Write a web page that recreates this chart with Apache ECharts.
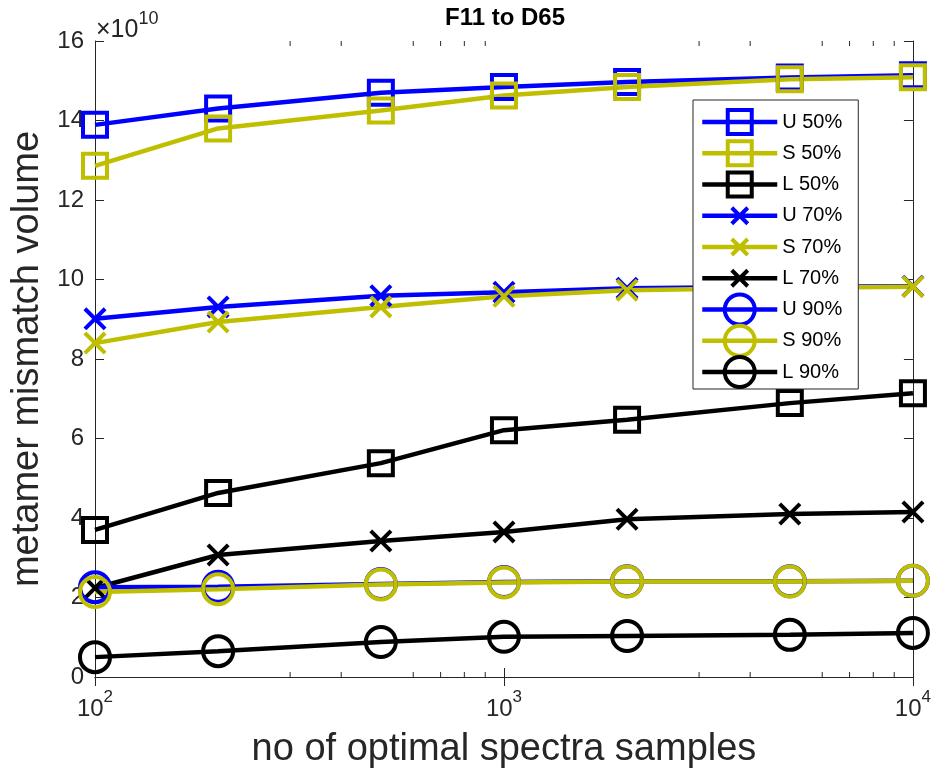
<!DOCTYPE html>
<html>
<head>
<meta charset="utf-8">
<script src="https://cdn.jsdelivr.net/npm/echarts@6/dist/echarts.min.js"></script>
<style>
  html, body { margin: 0; padding: 0; background: #fff; }
  #chart { width: 934px; height: 774px; }
</style>
</head>
<body>
<div id="chart"></div>
<script>
// Sample counts (log-scaled x axis)
const sampleCounts = [100, 200, 500, 1000, 2000, 5000, 10000];

// Metamer mismatch volume, in units of 1e10
const U50 = [13.89, 14.30, 14.70, 14.84, 14.97, 15.08, 15.14];
const S50 = [12.86, 13.80, 14.25, 14.63, 14.84, 15.04, 15.09];
const L50 = [3.70, 4.63, 5.38, 6.21, 6.47, 6.89, 7.14];
const U70 = [9.01, 9.31, 9.59, 9.68, 9.78, 9.82, 9.83];
const S70 = [8.40, 8.93, 9.31, 9.58, 9.73, 9.79, 9.82];
const L70 = [2.24, 3.07, 3.42, 3.65, 3.97, 4.10, 4.15];
const U90 = [2.26, 2.27, 2.34, 2.39, 2.41, 2.41, 2.42];
const S90 = [2.14, 2.21, 2.33, 2.38, 2.40, 2.40, 2.42];
const L90 = [0.50, 0.65, 0.88, 1.01, 1.03, 1.06, 1.11];

const yTickMax = 16;
const yTickStep = 2;
const minorX = [300, 400, 600, 700, 800, 900, 3000, 4000, 6000, 7000, 8000, 9000];

const BLUE = '#0000ff';
const YEL = '#bfbf00';
const BLK = '#000000';
const AXIS = '#262626';
const FONT = 'Liberation Sans, Arial, Helvetica, sans-serif';

// Outline markers; the extra move-to points pad the path's box so the
// drawn shape takes only part of the nominal symbol size.
const SQUARE = 'path://M-1.25,-1.25M0,0L10,0L10,10L0,10ZM11.25,11.25';
const CROSS = 'path://M-4.4,-4.4M0,0L10,10M10,0L0,10M14.4,14.4';

function mk(name, values, color, symbol, size) {
  return {
    name: name,
    type: 'line',
    data: sampleCounts.map((x, i) => [x, values[i]]),
    symbol: symbol,
    symbolSize: size,
    showAllSymbol: true,
    lineStyle: { color: color, width: 4.5 },
    itemStyle: { color: 'rgba(0,0,0,0)', borderColor: color, borderWidth: 4 },
    emphasis: { disabled: true },
    animation: false,
    clip: false
  };
}

const series = [
  mk('U 50%', U50, BLUE, SQUARE, 30),
  mk('S 50%', S50, YEL, SQUARE, 30),
  mk('L 50%', L50, BLK, SQUARE, 30),
  mk('U 70%', U70, BLUE, CROSS, 38),
  mk('S 70%', S70, YEL, CROSS, 38),
  mk('L 70%', L70, BLK, CROSS, 38),
  mk('U 90%', U90, BLUE, 'circle', 30),
  mk('S 90%', S90, YEL, 'circle', 30),
  mk('L 90%', L90, BLK, 'circle', 30),
  {
    // log-decade minor ticks on the bottom and top edges
    type: 'custom',
    silent: true,
    animation: false,
    z: 1,
    data: minorX.map(v => [v, 0]),
    renderItem: function (params, api) {
      const b = api.coord([api.value(0), 0]);
      const t = api.coord([api.value(0), yTickMax]);
      const st = { stroke: AXIS, lineWidth: 1 };
      return {
        type: 'group',
        children: [
          { type: 'line', shape: { x1: b[0], y1: b[1], x2: b[0], y2: b[1] - 5 }, style: st },
          { type: 'line', shape: { x1: t[0], y1: t[1], x2: t[0], y2: t[1] + 5 }, style: st }
        ]
      };
    }
  }
];

const legendNames = ['U 50%', 'S 50%', 'L 50%', 'U 70%', 'S 70%', 'L 70%', 'U 90%', 'S 90%', 'L 90%'];

const xLabelFmt = v => '{b|10}{s|' + Math.round(Math.log10(v)) + '}';

const option = {
  backgroundColor: '#ffffff',
  animation: false,
  textStyle: { fontFamily: FONT },
  graphic: [{
    // plot title, centred over the axes box
    type: 'text',
    x: 505,
    y: 6,
    style: {
      text: 'F11 to D65',
      fontFamily: FONT,
      fontSize: 24,
      fontWeight: 'bold',
      fill: '#000',
      align: 'center',
      verticalAlign: 'top'
    }
  }, {
    // common exponent of the y axis
    type: 'text',
    x: 96,
    y: 10,
    style: {
      text: '{m|×10}{e|10}',
      verticalAlign: 'top',
      rich: {
        m: { fontFamily: FONT, fontSize: 25, fill: AXIS, padding: [8, 0, 0, 0] },
        e: { fontFamily: FONT, fontSize: 18, fill: AXIS, verticalAlign: 'top' }
      }
    }
  }],
  legend: {
    data: legendNames,
    orient: 'vertical',
    left: 693,
    top: 100,
    backgroundColor: '#fff',
    borderColor: AXIS,
    borderWidth: 1,
    borderRadius: 0,
    padding: [5, 16, 0, 7],
    itemWidth: 75,
    itemHeight: 37.5,
    itemGap: -2.75,
    lineStyle: { width: 4.5 },
    itemStyle: { borderWidth: 4 },
    textStyle: { fontFamily: FONT, fontSize: 20, color: '#000', padding: [0, 0, 0, 0] },
    selectedMode: false
  },
  grid: { left: 95, right: 19, top: 41, bottom: 97, containLabel: false },
  xAxis: [{
    type: 'log',
    logBase: 10,
    min: 100,
    max: 10000,
    name: 'no of optimal spectra samples',
    nameLocation: 'middle',
    nameGap: 54,
    nameTextStyle: { fontFamily: FONT, fontSize: 38, color: AXIS },
    axisLine: { show: true, lineStyle: { color: AXIS, width: 1 } },
    axisTick: { show: true, inside: true, length: 9, lineStyle: { color: AXIS } },
    axisLabel: {
      formatter: xLabelFmt,
      margin: 12,
      rich: {
        b: { fontFamily: FONT, fontSize: 24, color: AXIS, padding: [8, 0, 0, 0] },
        s: { fontFamily: FONT, fontSize: 17, color: AXIS, verticalAlign: 'top' }
      }
    },
    splitLine: { show: false },
    minorTick: { show: false }
  }, {
    type: 'log',
    logBase: 10,
    min: 100,
    max: 10000,
    position: 'top',
    axisLine: { show: true, lineStyle: { color: AXIS, width: 1 } },
    axisTick: { show: true, inside: true, length: 9, lineStyle: { color: AXIS } },
    axisLabel: { show: false },
    splitLine: { show: false }
  }],
  yAxis: [{
    type: 'value',
    min: 0,
    max: yTickMax,
    interval: yTickStep,
    name: 'metamer mismatch volume',
    nameLocation: 'middle',
    nameGap: 42,
    nameTextStyle: { fontFamily: FONT, fontSize: 38, color: AXIS },
    axisLine: { show: true, lineStyle: { color: AXIS, width: 1 } },
    axisTick: { show: true, inside: true, length: 9, lineStyle: { color: AXIS } },
    axisLabel: { fontFamily: FONT, fontSize: 24, color: AXIS, margin: 11 },
    splitLine: { show: false }
  }, {
    type: 'value',
    min: 0,
    max: yTickMax,
    interval: yTickStep,
    position: 'right',
    axisLine: { show: true, lineStyle: { color: AXIS, width: 1 } },
    axisTick: { show: true, inside: true, length: 9, lineStyle: { color: AXIS } },
    axisLabel: { show: false },
    splitLine: { show: false }
  }],
  series: series
};

const chart = echarts.init(document.getElementById('chart'), null, { renderer: 'canvas' });
chart.setOption(option);
</script>
</body>
</html>
